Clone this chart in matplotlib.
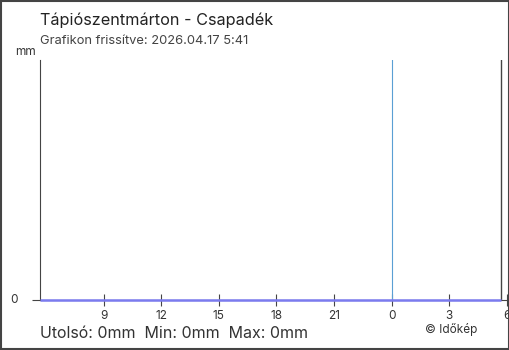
import matplotlib.pyplot as plt
from matplotlib.patches import Rectangle

plt.rcParams['font.family'] = ['Inter', 'DejaVu Sans']

# Adatok (órában, az előző nap 5:41-től)
start_hour = 5 + 41 / 60
hours = [start_hour + i for i in range(25)]
precip = [0] * 25
tick_pos = [9, 12, 15, 18, 21, 24, 27, 30]
tick_labels = ['9', '12', '15', '18', '21', '0', '3', '6']
midnight = 24
now = start_hour + 24

title = 'Tápiószentmárton - Csapadék'
subtitle = 'Grafikon frissítve: 2026.04.17 5:41'
stats = 'Utolsó: 0mm  Min: 0mm  Max: 0mm'

W, H = 510, 350
fig = plt.figure(figsize=(W / 100, H / 100), dpi=100)
ax = fig.add_axes([40 / W, 50 / H, 468 / W, 240 / H])

ax.plot(hours, precip, color='#7b7bef', linewidth=1.8, solid_capstyle='butt',
        zorder=5, clip_on=False)
ax.axvline(midnight, color='#5a9fd4', linewidth=0.8)
ax.axvline(now, color='#444444', linewidth=1)

ax.set_xlim(start_hour, start_hour + 468 / 19.2)
ax.set_ylim(0, 1)

for s in ['top', 'right']:
    ax.spines[s].set_visible(False)
ax.spines['left'].set_color('#444444')
ax.spines['bottom'].set_color('#444444')
ax.spines['left'].set_linewidth(0.8)
ax.spines['bottom'].set_linewidth(0.8)

ax.set_xticks(tick_pos)
ax.set_xticklabels(tick_labels)
ax.tick_params(axis='x', direction='inout', length=9, width=0.8, color='#444444',
               labelsize=8.5, labelcolor='#333333', pad=3)
ax.set_yticks([0])
ax.set_yticklabels([''])
ax.tick_params(axis='y', direction='out', length=6, width=0.8, color='#444444')

fig.text(10 / W, 1 - 300 / H, '0', fontsize=8.5, color='#333333', va='center', ha='left')
fig.text(40 / W, 1 - 20 / H, title, fontsize=11.7, color='#222222', va='center')
fig.text(40 / W, 1 - 41 / H, subtitle, fontsize=9.3, color='#444444', va='center')
fig.text(36 / W, 1 - 52 / H, 'mm', fontsize=8.5, color='#333333', va='center', ha='right')
fig.text(40 / W, 1 - 334 / H, stats, fontsize=11.5, color='#333333', va='center')
fig.text(425 / W, 1 - 330 / H, '© Időkép', fontsize=8.5, color='#333333', va='center')

fig.patches.append(Rectangle((0.001, 0.002), 0.997, 0.996, transform=fig.transFigure,
                             fill=False, edgecolor='#444444', linewidth=1.5))

fig.savefig('out.png', dpi=100)
